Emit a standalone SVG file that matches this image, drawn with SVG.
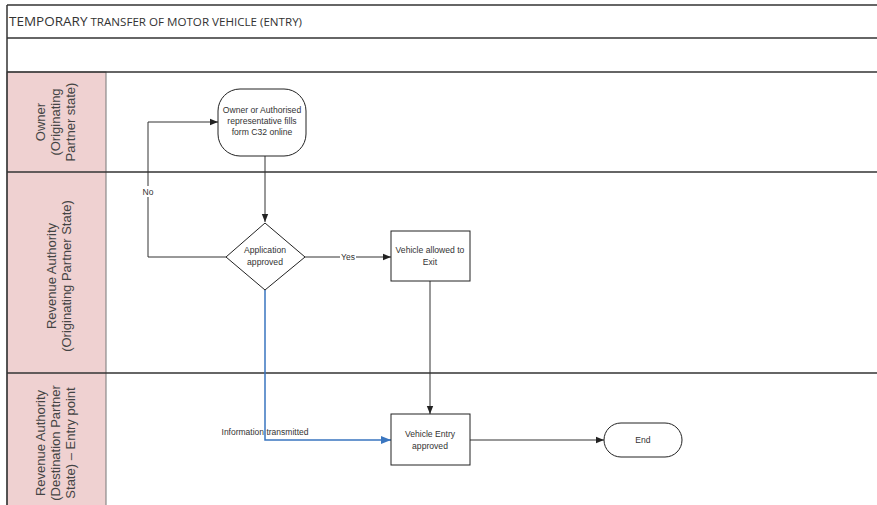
<svg xmlns="http://www.w3.org/2000/svg" width="877" height="505" viewBox="0 0 877 505">
<defs>
<marker id="ah" viewBox="0 0 10 10" refX="10" refY="5" markerWidth="8" markerHeight="8" markerUnits="userSpaceOnUse" orient="auto"><path d="M0,1 L10,5 L0,9 z" fill="#222"/></marker>
<marker id="ahb" viewBox="0 0 10 10" refX="10" refY="5" markerWidth="10" markerHeight="10" markerUnits="userSpaceOnUse" orient="auto"><path d="M0,1 L10,5 L0,9 z" fill="#3a76c0"/></marker>
</defs>
<style>
.frame{stroke:#333;stroke-width:1.5;fill:none}
.lanehdr{fill:#efd1d1;stroke:#777;stroke-width:1}
.lanetxt{font-family:"Liberation Sans",Arial,sans-serif;font-size:13px;fill:#444;text-anchor:middle}
.node{fill:#fff;stroke:#222;stroke-width:1}
.ntxt{font-family:"Liberation Sans",Arial,sans-serif;font-size:8.6px;fill:#333;text-anchor:middle}
.conn{stroke:#333;stroke-width:1;fill:none}
.blue{stroke:#3a76c0;stroke-width:1.5;fill:none}
.lbl{font-family:"Liberation Sans",Arial,sans-serif;font-size:8.5px;fill:#333}
</style>
<rect x="0" y="0" width="877" height="505" fill="#fff"/>
<g id="pool">
<rect class="lanehdr" x="7" y="72" width="99" height="440"/>
<line class="frame" x1="7" y1="5" x2="877" y2="5" stroke="#555" stroke-width="2"/>
<line class="frame" x1="7" y1="38" x2="877" y2="38"/>
<line class="frame" x1="7" y1="72" x2="877" y2="72"/>
<line class="frame" x1="7" y1="172" x2="877" y2="172" stroke-width="1.8"/>
<line class="frame" x1="7" y1="373" x2="877" y2="373" stroke-width="2"/>
<line class="frame" x1="7" y1="5" x2="7" y2="505"/>
<text x="9" y="26" font-family="'Open Sans',sans-serif" fill="#333"><tspan font-size="13.5">TEMPORARY</tspan><tspan font-size="11.6"> TRANSFER OF MOTOR VEHICLE (ENTRY)</tspan></text>
</g>
<g id="lane-owner">
<text class="lanetxt" transform="translate(56,122) rotate(-90)"><tspan x="0" y="-11">Owner</tspan><tspan x="0" y="4">(Originating</tspan><tspan x="0" y="19">Partner state)</tspan></text>
</g>
<g id="lane-ra-origin">
<text class="lanetxt" transform="translate(56,276) rotate(-90)"><tspan x="0" y="0">Revenue Authority</tspan><tspan x="0" y="15">(Originating Partner State)</tspan></text>
</g>
<g id="lane-ra-dest">
<text class="lanetxt" transform="translate(56,443) rotate(-90)"><tspan x="0" y="-11">Revenue Authority</tspan><tspan x="0" y="4">(Destination Partner</tspan><tspan x="0" y="19">State) – Entry point</tspan></text>
</g>
<g id="connectors">
<line class="conn" x1="265" y1="156" x2="265" y2="222" marker-end="url(#ah)"/>
<polyline class="conn" points="226,257 148,257 148,122 218,122" marker-end="url(#ah)"/>
<line class="conn" x1="305" y1="257" x2="391" y2="257" marker-end="url(#ah)"/>
<line class="conn" x1="430" y1="281" x2="430" y2="414" marker-end="url(#ah)"/>
<polyline class="blue" points="265,289 265,440 391,440" marker-end="url(#ahb)"/>
<line class="conn" x1="470" y1="440" x2="604" y2="440" marker-end="url(#ah)"/>
<rect x="141" y="186" width="14" height="11" fill="#fff"/>
<text class="lbl" x="148" y="195" text-anchor="middle">No</text>
<rect x="340" y="252" width="16" height="10" fill="#fff"/>
<text class="lbl" x="348" y="260" text-anchor="middle">Yes</text>
<text class="lbl" x="265" y="435" text-anchor="middle">Information transmitted</text>
</g>
<g id="start">
<rect class="node" x="218" y="89" width="88" height="67" rx="22" ry="22"/>
<text class="ntxt"><tspan x="262" y="113">Owner or Authorised</tspan><tspan x="262" y="124">representative fills</tspan><tspan x="262" y="135">form C32 online</tspan></text>
</g>
<g id="decision">
<polygon class="node" points="265,223 305,257 265,290 226,257"/>
<text class="ntxt"><tspan x="265" y="253">Application</tspan><tspan x="265" y="265">approved</tspan></text>
</g>
<g id="exit">
<rect class="node" x="391" y="231" width="79" height="50"/>
<text class="ntxt"><tspan x="430" y="253">Vehicle allowed to</tspan><tspan x="430" y="265">Exit</tspan></text>
</g>
<g id="entry">
<rect class="node" x="391" y="414" width="79" height="51"/>
<text class="ntxt"><tspan x="430" y="437">Vehicle Entry</tspan><tspan x="430" y="449">approved</tspan></text>
</g>
<g id="end">
<rect class="node" x="604" y="423" width="78" height="34" rx="17" ry="17"/>
<text class="ntxt" x="643" y="443">End</text>
</g>
</svg>
